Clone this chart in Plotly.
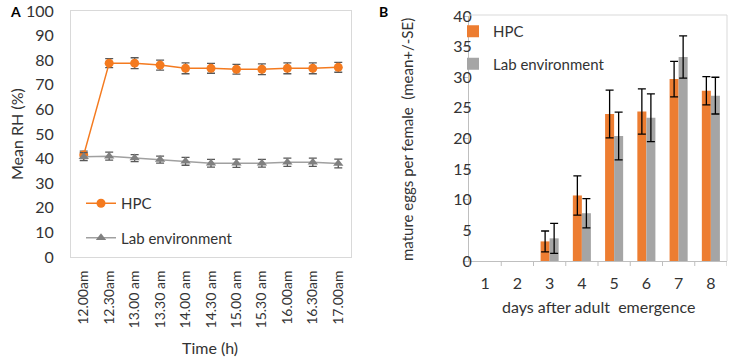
import plotly.graph_objects as go

# Panel A data
times = ["12.00am", "12.30am", "13.00 am", "13.30 am", "14.00 am", "14.30 am",
         "15.00 am", "15.30 am", "16.00am", "16.30am", "17.00am"]
hpc_rh = [41.5, 78.8, 78.8, 78.0, 76.7, 76.7, 76.3, 76.3, 76.7, 76.7, 77.1]
hpc_rh_err = [1.5, 1.8, 2.2, 2.0, 2.2, 2.0, 2.0, 2.2, 2.2, 2.2, 2.0]
lab_rh = [40.8, 41.0, 40.2, 39.6, 38.9, 38.1, 38.1, 38.1, 38.5, 38.5, 38.0]
lab_rh_err = [1.6, 1.6, 1.4, 1.4, 1.6, 1.6, 1.7, 1.6, 1.7, 1.7, 1.8]

# Panel B data
days = ["1", "2", "3", "4", "5", "6", "7", "8"]
hpc_eggs = [0, 0, 3.2, 10.7, 24.0, 24.4, 29.7, 27.8]
hpc_eggs_err = [0, 0, 1.7, 3.2, 3.9, 3.7, 2.9, 2.3]
lab_eggs = [0, 0, 3.7, 7.8, 20.4, 23.4, 33.3, 27.0]
lab_eggs_err = [0, 0, 2.45, 2.4, 3.9, 3.9, 3.45, 3.0]

W, H = 737, 364
FONT = "Lato"
TXT = "#333333"
ORANGE_LINE = "#F47A1F"
ORANGE_BAR = "#ED7D31"
GRAY_BAR = "#A5A5A5"


def nz(vals):
    # zero-height bars are not drawn (and carry no error bar)
    return [v if v else None for v in vals]


fig = go.Figure()

fig.add_trace(go.Scatter(
    x=times, y=hpc_rh, name="HPC", mode="lines+markers",
    line=dict(color=ORANGE_LINE, width=1.5),
    marker=dict(color=ORANGE_LINE, size=9, symbol="circle"),
    error_y=dict(type="data", array=hpc_rh_err, color="#595959", thickness=1.3, width=4),
    xaxis="x", yaxis="y", legend="legend", legendgroup="a1"))
fig.add_trace(go.Scatter(
    x=times, y=lab_rh, name="Lab environment", mode="lines+markers",
    line=dict(color="#A0A0A0", width=1.5),
    marker=dict(color="#808080", size=9, symbol="triangle-up"),
    error_y=dict(type="data", array=lab_rh_err, color="#595959", thickness=1.3, width=4),
    xaxis="x", yaxis="y", legend="legend", legendgroup="a2"))

fig.add_trace(go.Bar(
    x=days, y=nz(hpc_eggs), name="HPC", marker=dict(color=ORANGE_BAR, line=dict(width=0)),
    error_y=dict(type="data", array=hpc_eggs_err, color="#000000", thickness=1.3, width=4),
    xaxis="x2", yaxis="y2", legend="legend2", legendgroup="b1"))
fig.add_trace(go.Bar(
    x=days, y=nz(lab_eggs), name="Lab environment", marker=dict(color=GRAY_BAR, line=dict(width=0)),
    error_y=dict(type="data", array=lab_eggs_err, color="#000000", thickness=1.3, width=4),
    xaxis="x2", yaxis="y2", legend="legend2", legendgroup="b2"))


def px(x):
    return x / W


def py(y):
    return 1 - y / H


fig.update_layout(
    template="none",
    width=W, height=H,
    margin=dict(l=0, r=0, t=0, b=0, pad=0),
    paper_bgcolor="white", plot_bgcolor="white",
    font=dict(family=FONT, size=15, color=TXT),
    barmode="group", bargap=0.44, bargroupgap=0,
    xaxis=dict(domain=[px(71), px(351)], range=[-0.5, 10.5], type="category",
               automargin=False,
               showline=True, linecolor="#D9D9D9", linewidth=1, mirror=True,
               showgrid=False, zeroline=False, tickangle=-90,
               ticks="outside", ticklen=7, tickcolor="rgba(0,0,0,0)",
               tickfont=dict(size=14, color=TXT)),
    yaxis=dict(domain=[py(257), py(11)], range=[0, 100], dtick=10,
               automargin=False,
               showline=True, linecolor="#D9D9D9", linewidth=1, mirror=True,
               showgrid=False, zeroline=False, ticks="outside", ticklen=13,
               tickcolor="rgba(0,0,0,0)", tickfont=dict(size=16, color=TXT)),
    xaxis2=dict(domain=[px(469), px(727)], range=[-0.5, 7.5], type="category",
                anchor="y2", automargin=False,
                showline=True, linecolor="#BFBFBF", linewidth=1,
                mirror=False, showgrid=False, zeroline=False,
                ticks="outside", ticklen=8, tickcolor="rgba(0,0,0,0)",
                tickfont=dict(size=16, color=TXT)),
    yaxis2=dict(domain=[py(261), py(16)], range=[0, 40], dtick=5, anchor="x2",
                automargin=False,
                showline=True, linecolor="#BFBFBF", linewidth=1, mirror=False,
                showgrid=False, zeroline=False, ticks="outside", ticklen=5,
                tickcolor="#BFBFBF", ticklabelstandoff=-12,
                tickfont=dict(size=16, color=TXT)),
    legend=dict(x=px(81), y=py(187), xanchor="left", yanchor="top",
                bgcolor="rgba(0,0,0,0)", font=dict(size=15, color=TXT),
                tracegroupgap=12, itemwidth=30),
    legend2=dict(x=px(453), y=py(15), xanchor="left", yanchor="top",
                 bgcolor="rgba(0,0,0,0)", font=dict(size=15, color=TXT),
                 tracegroupgap=10, itemwidth=30),
    showlegend=True,
)

# Panel B light frame (top/right) and x tick marks between categories
fig.add_shape(type="line", xref="x2 domain", yref="paper",
              x0=0, x1=1, y0=py(15), y1=py(15), line=dict(color="#D9D9D9", width=1))
fig.add_shape(type="line", xref="x2 domain", yref="paper",
              x0=1, x1=1, y0=py(261), y1=py(15), line=dict(color="#D9D9D9", width=1))
for i in range(len(days) + 1):
    fig.add_shape(type="line", xref="x2", yref="paper",
                  x0=i - 0.5, x1=i - 0.5, y0=py(261), y1=py(266),
                  line=dict(color="#BFBFBF", width=1))

annots = [
    dict(text="<b>A</b>", x=px(15), y=py(12), size=14, color="#000000"),
    dict(text="<b>B</b>", x=px(383), y=py(12), size=14, color="#000000"),
    dict(text="Mean RH (%)", x=px(16), y=py(134), size=16, color=TXT, angle=-90),
    dict(text="Time (h)", x=px(210), y=py(347), size=16, color=TXT),
    dict(text="mature eggs per female  (mean+/-SE)", x=px(407), y=py(140), size=15,
         color=TXT, angle=-90),
    dict(text="days after adult  emergence", x=px(598), y=py(306), size=16, color=TXT),
]
for a in annots:
    fig.add_annotation(text=a["text"], x=a["x"], y=a["y"], xref="paper", yref="paper",
                       showarrow=False, textangle=a.get("angle", 0),
                       font=dict(family=FONT, size=a["size"], color=a["color"]),
                       xanchor="center", yanchor="middle")

fig.write_html("out.html", config={"displayModeBar": False},
               post_script="document.body.style.margin='0';document.body.style.padding='0';")
